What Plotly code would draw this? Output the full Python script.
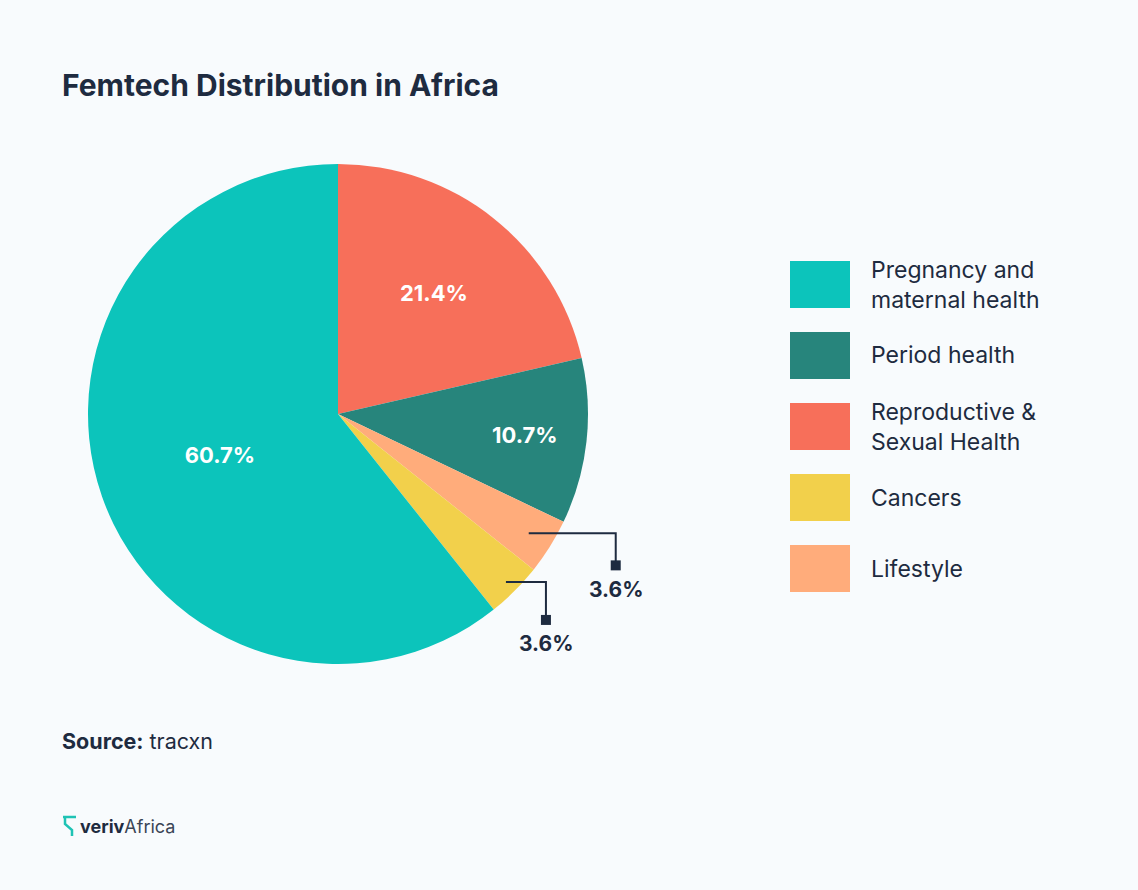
import math
import plotly.graph_objects as go

# Data (slice order, clockwise from 12 o'clock)
categories = ["Reproductive & Sexual Health", "Period health", "Lifestyle", "Cancers",
              "Pregnancy and maternal health"]
shares = [21.4, 10.7, 3.6, 3.6, 60.7]
colors = ["#F76F5A", "#27857C", "#FFAC7B", "#F2D04B", "#0CC4BB"]

# Legend order as shown on the right
legend_labels = ["Pregnancy and<br>maternal health", "Period health",
                 "Reproductive &<br>Sexual Health", "Cancers", "Lifestyle"]
legend_colors = ["#0CC4BB", "#27857C", "#F76F5A", "#F2D04B", "#FFAC7B"]

W, H = 1138, 890
NAVY = "#1E2B40"
BG = "#F8FBFD"
FONT = "Inter"

# pie geometry in pixels
cx, cy, R = 338, 414, 250


def px(x):
    return x / W


def py(y):
    return 1 - y / H


small = [v < 5 for v in shares]
texts = ["" if s else f"{v}%" for v, s in zip(shares, small)]

fig = go.Figure(go.Pie(
    labels=categories,
    values=shares,
    text=texts,
    textinfo="text",
    textposition=["none" if s else "inside" for s in small],
    insidetextorientation="horizontal",
    insidetextfont=dict(family=FONT, size=22, color="white", weight="bold"),
    marker=dict(colors=colors, line=dict(width=0)),
    sort=False,
    direction="clockwise",
    rotation=0,
    hole=0,
    showlegend=False,
    domain=dict(x=[px(cx - R), px(cx + R)], y=[py(cy + R), py(cy - R)]),
))

shapes = []
annotations = []

# leader lines for the small slices: radius fraction, horizontal run, drop
leader_style = {"Lifestyle": (0.9, 87, 32), "Cancers": (0.95, 40, 38)}
total = sum(shares)
cum = 0
for cat, v in zip(categories, shares):
    mid = 2 * math.pi * (cum + v / 2) / total
    cum += v
    if cat not in leader_style:
        continue
    rf, run, drop = leader_style[cat]
    sx = cx + rf * R * math.sin(mid)
    sy = cy - rf * R * math.cos(mid)
    ex = sx + run
    ey = sy + drop
    shapes.append(dict(type="path", xref="paper", yref="paper",
                       path=f"M{px(sx)},{py(sy)} L{px(ex)},{py(sy)} L{px(ex)},{py(ey)}",
                       line=dict(color=NAVY, width=2)))
    shapes.append(dict(type="rect", xref="paper", yref="paper",
                       x0=px(ex - 5), x1=px(ex + 5), y0=py(ey + 5), y1=py(ey - 5),
                       fillcolor=NAVY, line=dict(width=0)))
    annotations.append(dict(x=px(ex), y=py(ey + 24), xref="paper", yref="paper",
                            text=f"<b>{v}%</b>", showarrow=False,
                            font=dict(family=FONT, size=21, color=NAVY),
                            xanchor="center", yanchor="middle"))

# custom legend with large swatches
for i, (lab, col) in enumerate(zip(legend_labels, legend_colors)):
    top = 261 + i * 71
    shapes.append(dict(type="rect", xref="paper", yref="paper",
                       x0=px(790), x1=px(850), y0=py(top + 47), y1=py(top),
                       fillcolor=col, line=dict(width=0)))
    annotations.append(dict(x=px(869), y=py(top + 23.5), xref="paper", yref="paper",
                            text=lab, showarrow=False, align="left",
                            font=dict(family=FONT, size=23, color=NAVY),
                            xanchor="left", yanchor="middle"))

# title, source, logo
annotations.append(dict(x=px(60), y=py(85), xref="paper", yref="paper",
                        text="<b>Femtech Distribution in Africa</b>", showarrow=False,
                        font=dict(family=FONT, size=30, color=NAVY),
                        xanchor="left", yanchor="middle"))
annotations.append(dict(x=px(60), y=py(741), xref="paper", yref="paper",
                        text="<b>Source:</b> tracxn", showarrow=False,
                        font=dict(family=FONT, size=21.5, color=NAVY),
                        xanchor="left", yanchor="middle"))
annotations.append(dict(x=px(78), y=py(826), xref="paper", yref="paper",
                        text="<b>veriv</b><span style='color:#3A4556'>Africa</span>",
                        showarrow=False,
                        font=dict(family=FONT, size=18, color=NAVY),
                        xanchor="left", yanchor="middle"))
shapes.append(dict(type="path", xref="paper", yref="paper",
                   path=(f"M{px(63)},{py(817)} L{px(76)},{py(817)} "
                         f"M{px(65)},{py(817)} L{px(65)},{py(824)} L{px(72)},{py(830)} L{px(72)},{py(836)}"),
                   line=dict(color="#1FC3B5", width=2.5)))

fig.update_layout(
    width=W,
    height=H,
    margin=dict(l=0, r=0, t=0, b=0),
    paper_bgcolor=BG,
    plot_bgcolor=BG,
    shapes=shapes,
    annotations=annotations,
)

# drop the default page margin so the figure fills the window
fig.write_html("out.html", config={"displayModeBar": False},
               post_script="document.body.style.margin='0';")
